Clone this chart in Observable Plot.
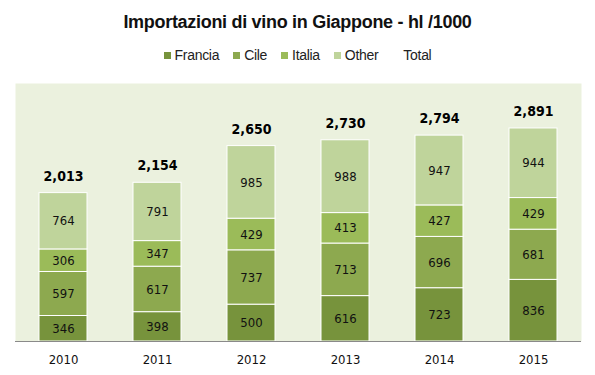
<!DOCTYPE html>
<html>
<head>
<meta charset="utf-8">
<script src="https://cdn.jsdelivr.net/npm/d3@7"></script>
<script src="https://cdn.jsdelivr.net/npm/@observablehq/plot@0.6"></script>
<style>
  html, body { margin: 0; padding: 0; background: #fff; }
  #wrap { width: 595px; }
  #title { height: 40px; line-height: 44px; text-align: center; font-family: "Liberation Sans", Arial, sans-serif; font-weight: bold; font-size: 18px; letter-spacing: -0.3px; color: #111; white-space: nowrap; overflow: visible; }
  #legend { height: 28px; line-height: 30px; text-align: center; font-family: "Liberation Sans", Arial, sans-serif; font-size: 14px; letter-spacing: -0.3px; color: #222; white-space: nowrap; }
  .item { display: inline-block; margin: 0 7px; }
  .sw { display: inline-block; width: 7px; height: 7px; margin-right: 4px; vertical-align: middle; position: relative; top: -1px; }
</style>
</head>
<body>
<div id="wrap">
  <div id="title"></div>
  <div id="legend"></div>
  <div id="chart"></div>
</div>
<script>
const years = ["2010", "2011", "2012", "2013", "2014", "2015"];
const seriesNames = ["Francia", "Cile", "Italia", "Other"];
const francia = [346, 398, 500, 616, 723, 836];
const cile = [597, 617, 737, 713, 696, 681];
const italia = [306, 347, 429, 413, 427, 429];
const other = [764, 791, 985, 988, 947, 944];
const totals = [2013, 2154, 2650, 2730, 2794, 2891];
const colors = ["#77933C", "#8DA94F", "#9BBB59", "#BFD49B"];
const titleText = "Importazioni di vino in Giappone - hl /1000";

document.getElementById("title").textContent = titleText;

const legend = document.getElementById("legend");
seriesNames.concat(["Total"]).forEach((name, i) => {
  const item = document.createElement("span");
  item.className = "item";
  const sw = document.createElement("span");
  sw.className = "sw";
  sw.style.background = i < colors.length ? colors[i] : "transparent";
  item.appendChild(sw);
  item.appendChild(document.createTextNode(name));
  legend.appendChild(item);
});

const seriesValues = [francia, cile, italia, other];
const data = [];
seriesNames.forEach((s, si) => {
  years.forEach((y, yi) => data.push({year: y, series: s, value: seriesValues[si][yi]}));
});
const totalData = years.map((y, i) => ({year: y, total: totals[i]}));

const chart = Plot.plot({
  width: 595,
  height: 307,
  marginTop: 15,
  marginBottom: 34,
  marginLeft: 15,
  marginRight: 14,
  style: {fontFamily: "'DejaVu Sans Condensed', 'DejaVu Sans', sans-serif", fontSize: "13px", color: "#111", background: "#fff"},
  x: {type: "band", domain: years, paddingInner: 0.49, paddingOuter: 0.255, tickSize: 0, tickPadding: 13, label: null},
  y: {domain: [0, 3500], axis: null},
  color: {domain: seriesNames, range: colors},
  marks: [
    Plot.frame({fill: "#EBF1DE", stroke: "none"}),
    Plot.barY(data, {x: "year", y: "value", fill: "series", z: "series", stroke: "white", strokeWidth: 1}),
    Plot.text(data, Plot.stackY({x: "year", y: "value", z: "series", text: "value", fill: "#111", fontSize: 13})),
    Plot.text(totalData, {x: "year", y: "total", text: d => d3.format(",")(d.total), dy: -17, fontWeight: "bold", fontSize: 14, fill: "#000"}),
    Plot.ruleY([0], {stroke: "#8a8a8a", strokeWidth: 1})
  ]
});
document.getElementById("chart").appendChild(chart);
</script>
</body>
</html>
